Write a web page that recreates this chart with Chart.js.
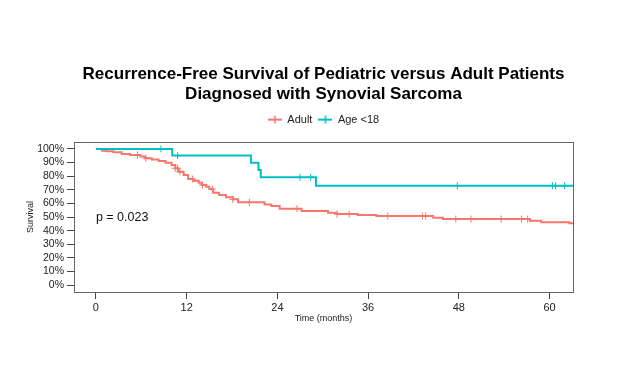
<!DOCTYPE html>
<html>
<head>
<meta charset="utf-8">
<script src="https://cdn.jsdelivr.net/npm/chart.js@4"></script>
<style>
  html, body { margin: 0; padding: 0; background: #ffffff; }
</style>
</head>
<body>
<canvas id="kmChart" width="624" height="374"></canvas>
<script>
// axis ticks
const xTicks = [0, 12, 24, 36, 48, 60];
const yTicks = [0, 10, 20, 30, 40, 50, 60, 70, 80, 90, 100];

// Adult: KM step times (months) and survival (%)
const adultTime = [0, 0.8, 1.4, 2.3, 3.4, 4.5, 5.9, 6.5, 7.4, 8.3, 9.2, 10.0, 10.5, 10.9, 11.6, 12.2, 12.9, 13.6, 14.0,
    14.6, 15.0, 15.5, 16.3, 17.2, 18.1, 18.8, 22.3, 23.2, 24.3, 27.2, 30.7, 31.8, 34.6, 37.1, 44.6, 45.9, 57.4, 58.9, 62.6, 63.1];
const adultSurv = [100, 98.7, 98.3, 97.6, 96.3, 95.6, 94.4, 93.2, 92.2, 91.2, 89.9, 88.2, 85.8, 83.3, 80.9, 77.9, 76.7, 75.2, 73.5,
    72.3, 70.5, 67.9, 66.2, 64.5, 63.0, 60.8, 59.3, 58.1, 56.1, 54.4, 53.2, 52.2, 51.5, 50.7, 49.5, 48.5, 47.3, 46.1, 45.4, 45.4];
const adultCensor = [5.5, 6.6, 10.5, 10.8, 11.1, 12.8, 14.1, 15.4, 18.1, 20.3, 26.6, 31.9, 33.5, 38.6, 43.2, 43.6,
    47.6, 49.6, 53.6, 56.3, 57.1];

// Age <18
const youngTime = [0, 10.1, 20.5, 21.5, 21.8, 29.1, 63.1];
const youngSurv = [100, 95.1, 89.9, 84.6, 79.2, 73.0, 73.0];
const youngCensor = [8.6, 10.8, 27.0, 28.4, 47.8, 60.4, 60.8, 62.0];

const pLabel = "p = 0.023";

const RED = "#F8766D";
const TEAL = "#00BFC4";
const FONT = "'Liberation Sans', Arial, sans-serif";

function stepPoints(times, surv) {
    return times.map((t, i) => ({ x: t, y: surv[i] }));
}

// censor marks sit on the curve at their time
function censorPoints(censor, times, surv) {
    return censor.map(c => {
        let s = surv[0];
        for (let i = 0; i < times.length; i++) {
            if (times[i] <= c) s = surv[i];
        }
        return { x: c, y: s };
    });
}

// small line-with-tick icon for the legend
function legendIcon(color) {
    const c = document.createElement("canvas");
    c.width = 14;
    c.height = 10;
    const ctx = c.getContext("2d");
    ctx.strokeStyle = color;
    ctx.lineWidth = 2;
    ctx.beginPath(); ctx.moveTo(0, 5); ctx.lineTo(14, 5); ctx.stroke();
    ctx.lineWidth = 1.5;
    ctx.beginPath(); ctx.moveTo(7, 1); ctx.lineTo(7, 9); ctx.stroke();
    return c;
}

const boxPlugin = {
    id: "box",
    afterDatasetsDraw(chart) {
        const a = chart.chartArea;
        const ctx = chart.ctx;
        ctx.save();
        ctx.strokeStyle = "#666666";
        ctx.lineWidth = 1;
        ctx.strokeRect(Math.round(a.left) + 0.5, Math.round(a.top) + 0.5,
            Math.round(a.right - a.left), Math.round(a.bottom - a.top));
        ctx.restore();
    }
};

const pPlugin = {
    id: "pvalue",
    afterDatasetsDraw(chart) {
        const ctx = chart.ctx;
        const x = chart.scales.x.getPixelForValue(0);
        const y = chart.scales.y.getPixelForValue(50);
        ctx.save();
        ctx.font = "12.5px " + FONT;
        ctx.fillStyle = "#111111";
        ctx.textAlign = "left";
        ctx.textBaseline = "middle";
        ctx.fillText(pLabel, x, y);
        ctx.restore();
    }
};

new Chart(document.getElementById("kmChart"), {
    type: "line",
    data: {
        datasets: [
            {
                label: "Adult",
                data: stepPoints(adultTime, adultSurv),
                borderColor: RED,
                backgroundColor: RED,
                borderWidth: 2,
                stepped: true,
                pointRadius: 0,
                pointStyle: legendIcon(RED),
                order: 2
            },
            {
                label: "Age <18",
                data: stepPoints(youngTime, youngSurv),
                borderColor: TEAL,
                backgroundColor: TEAL,
                borderWidth: 2,
                stepped: true,
                pointRadius: 0,
                pointStyle: legendIcon(TEAL),
                order: 1
            },
            {
                label: "adult censored",
                data: censorPoints(adultCensor, adultTime, adultSurv),
                showLine: false,
                pointStyle: "cross",
                pointRadius: 3.5,
                pointBorderWidth: 1,
                borderColor: RED,
                order: 0
            },
            {
                label: "young censored",
                data: censorPoints(youngCensor, youngTime, youngSurv),
                showLine: false,
                pointStyle: "cross",
                pointRadius: 3.5,
                pointBorderWidth: 1,
                borderColor: TEAL,
                order: 0
            }
        ]
    },
    options: {
        responsive: false,
        animation: false,
        events: [],
        layout: { padding: { left: 0, right: 51, top: 0, bottom: 0 } },
        plugins: {
            title: {
                display: true,
                fullSize: false,
                text: ["Recurrence-Free Survival of Pediatric versus Adult Patients", "Diagnosed with Synovial Sarcoma"],
                color: "#000000",
                font: { family: FONT, size: 17, weight: "bold", lineHeight: 1.15 },
                padding: { top: 65, bottom: 4 }
            },
            // empty spacer between legend and plot
            subtitle: {
                display: true,
                fullSize: false,
                position: "top",
                weight: 500,
                text: "",
                font: { size: 2, lineHeight: 1 },
                padding: { top: 5, bottom: 0 }
            },
            legend: {
                display: true,
                fullSize: false,
                labels: {
                    usePointStyle: true,
                    pointStyleWidth: 14,
                    boxHeight: 10,
                    padding: 6,
                    color: "#222222",
                    font: { family: FONT, size: 11 },
                    filter: item => item.datasetIndex < 2,
                    sort: (a, b) => a.datasetIndex - b.datasetIndex
                }
            },
            tooltip: { enabled: false }
        },
        scales: {
            x: {
                type: "linear",
                min: -2.9,
                max: 63.1,
                afterBuildTicks: s => { s.ticks = xTicks.map(v => ({ value: v })); },
                afterFit: s => { s.height = 82; },
                border: { display: false },
                grid: { display: true, drawOnChartArea: false, drawTicks: true, tickLength: 7, tickColor: "#444444" },
                ticks: { color: "#222222", padding: 2, autoSkip: false, font: { family: FONT, size: 11 }, maxRotation: 0 },
                title: {
                    display: true,
                    text: "Time (months)",
                    color: "#222222",
                    font: { family: FONT, size: 9 },
                    padding: { top: 0, bottom: 50 }
                }
            },
            y: {
                type: "linear",
                min: -5,
                max: 105,
                afterBuildTicks: s => { s.ticks = yTicks.map(v => ({ value: v })); },
                afterFit: s => { s.width = 74; },
                border: { display: false },
                grid: { display: true, drawOnChartArea: false, drawTicks: true, tickLength: 7, tickColor: "#444444" },
                ticks: { color: "#222222", padding: 3, autoSkip: false, font: { family: FONT, size: 10.5 }, callback: v => v + "%" },
                title: {
                    display: true,
                    text: "Survival",
                    color: "#222222",
                    font: { family: FONT, size: 9 },
                    padding: { top: 25, bottom: 0 }
                }
            }
        }
    },
    plugins: [boxPlugin, pPlugin]
});
</script>
</body>
</html>
